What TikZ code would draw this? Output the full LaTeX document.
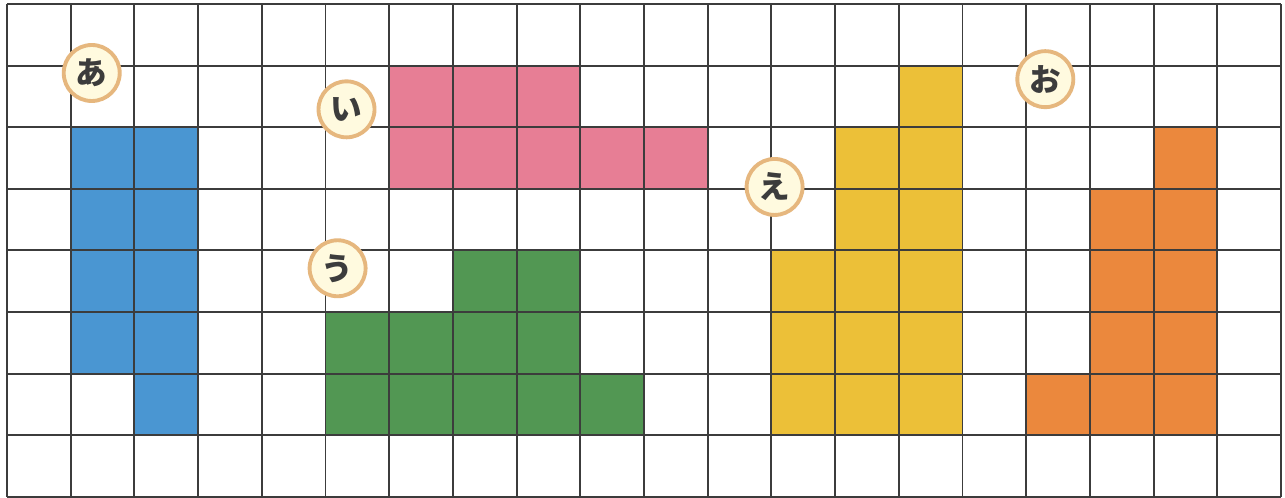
\documentclass[tikz,border=0pt]{standalone}
\usepackage{fontspec}
\usepackage{tikz}
\newfontfamily\jpfont{Noto Sans CJK JP}
\definecolor{tileblue}{HTML}{4A96D2}
\definecolor{tilepink}{HTML}{E77E95}
\definecolor{tilegreen}{HTML}{529753}
\definecolor{tileyellow}{HTML}{ECC038}
\definecolor{tileorange}{HTML}{EB883D}
\definecolor{tagfill}{HTML}{FFFADF}
\definecolor{tagline}{HTML}{E6B77E}
\definecolor{gridline}{HTML}{3C3C3C}

\begin{document}
\begin{tikzpicture}[x=1.274cm,y=1.232cm,
   tag/.style={circle,draw=tagline,line width=2.2pt,fill=tagfill,minimum size=1.12cm,inner sep=0pt,text=gridline,font=\jpfont\bfseries\fontsize{18}{18}\selectfont}]
\useasboundingbox (-0.14cm,-0.02cm) rectangle (25.56cm,9.936cm);
\fill[white] (-0.14cm,-0.02cm) rectangle (25.56cm,9.936cm);
% あ
\fill[tileblue] (1,2) rectangle (2,6);
\fill[tileblue] (2,1) rectangle (3,6);
% い
\fill[tilepink] (6,6) rectangle (9,7);
\fill[tilepink] (6,5) rectangle (11,6);
% う
\fill[tilegreen] (7,3) rectangle (9,4);
\fill[tilegreen] (5,2) rectangle (9,3);
\fill[tilegreen] (5,1) rectangle (10,2);
% え
\fill[tileyellow] (14,1) rectangle (15,7);
\fill[tileyellow] (13,1) rectangle (14,6);
\fill[tileyellow] (12,1) rectangle (13,4);
% お
\fill[tileorange] (18,1) rectangle (19,6);
\fill[tileorange] (17,1) rectangle (18,5);
\fill[tileorange] (16,1) rectangle (17,2);
\draw[gridline,line width=1.1pt,xstep=1.274cm,ystep=1.232cm] (0,0) grid (20,8);
\foreach \n/\x/\y/\t in %
{a/1.33/6.88/あ,i/5.33/6.29/い,u/5.19/3.71/う,e/12.05/5.03/え,o/16.30/6.78/お} {
   \node[tag] (tag-\n) at (\x,\y) {\t};
}
\end{tikzpicture}
\end{document}
